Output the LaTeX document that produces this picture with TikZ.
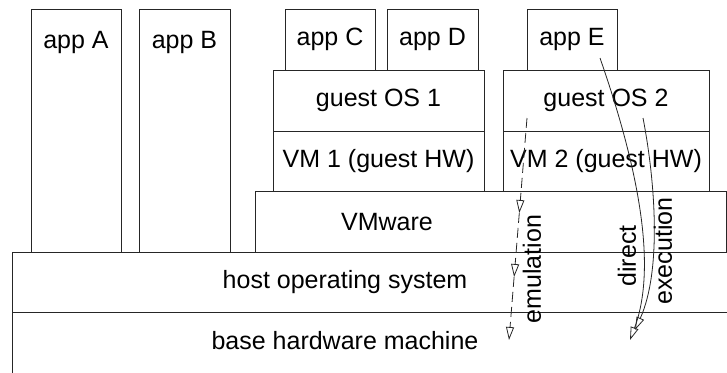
\documentclass[tikz,border=0pt]{standalone}
\usepackage{fontspec}
\setmainfont{Liberation Sans}
\usetikzlibrary{arrows.meta,positioning}
\tikzset{
  every node/.style={font=\fontsize{25}{30}\selectfont,text=black},
  layer/.style={draw=black!85,line width=1pt,inner sep=0pt,outer sep=0pt,minimum height=61pt,anchor=north west},
  appbox/.style={layer,minimum width=90pt},
  tallapp/.style={appbox,text height=39pt,text depth=204pt},
  txt/.style={inner sep=0pt},
  tip/.style={-{Triangle[open,length=13pt,width=8pt]},line width=0.8pt,draw=black!85},
  emu/.style={tip,dash pattern=on 10pt off 5pt},
  vlabel/.style={txt,rotate=90},
}

\begin{document}
\begin{tikzpicture}[x=1pt,y=-1pt]
\path[use as bounding box,clip] (0,0) rectangle (727,372);

% native apps
\node[tallapp] (appA) at (31,9) {app A};
\node[tallapp,minimum width=91pt] (appB) at (139,9) {app B};

% host side
\node[layer,minimum width=730pt,minimum height=60pt] (host) at (12,252) {};
\node[layer,minimum width=730pt,minimum height=62pt,below=0pt of host] (base) {};
\node[layer,minimum width=471pt] (vmware) at (255,191) {};
\node[txt] (hosttxt) at (345,282) {host operating system};
\node[txt] (basetxt) at (345,341) {base hardware machine};
\node[txt] (vmwaretxt) at (387,222) {VMware};

% guest 1
\node[layer,minimum width=211pt,minimum height=60pt] (vm1) at (273,131) {VM 1 (guest HW)};
\node[layer,minimum width=211pt,above=0pt of vm1] (gos1) {guest OS 1};
\node[appbox] (appC) at (285,9) {app C};
\node[appbox,minimum width=91pt] (appD) at (387,9) {app D};

% guest 2
\node[layer,minimum width=206pt,minimum height=60pt] (vm2) at (503,131) {VM 2 (guest HW)};
\node[layer,minimum width=206pt,above=0pt of vm2] (gos2) {guest OS 2};
\node[appbox] (appE) at (527,9) {app E};

% emulation path
\coordinate (emuA) at (527,118);
\coordinate (emuB) at (519.3,213);
\coordinate (emuC) at (514.1,277);
\coordinate (emuD) at (509,340);
\draw[emu] (emuA) -- (emuB);
\draw[emu] (emuB) -- (emuC);
\draw[emu] (emuC) -- (emuD);
\node[vlabel] (emulbl) at (532,269) {emulation};

% direct execution paths
\coordinate (dirA) at (600,58);
\coordinate (dirB) at (630,340);
\coordinate (dirC) at (643,118);
\coordinate (dirD) at (635,330);
\draw[tip] (dirA) .. controls (632,150) and (660,260) .. (dirB);
\draw[tip] (dirC) .. controls (655,180) and (662,270) .. (dirD);
\node[vlabel] (dirlbl) at (627,256) {direct};
\node[vlabel] (exelbl) at (663,251) {execution};

\end{tikzpicture}
\end{document}
